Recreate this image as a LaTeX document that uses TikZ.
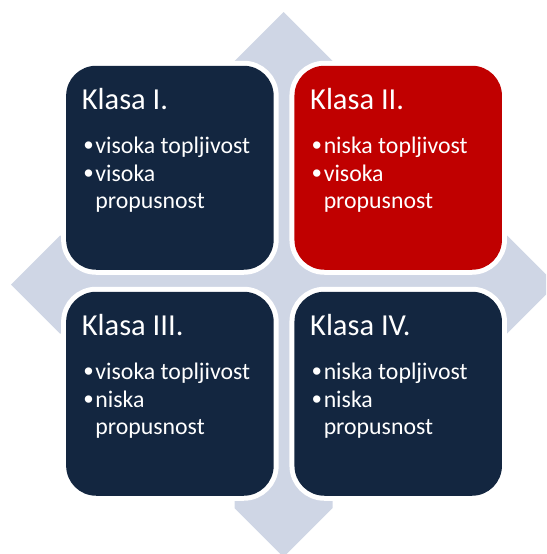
\documentclass[tikz,border=0pt]{standalone}
\usepackage{fontspec}
\setmainfont{Carlito}
\newfontfamily\bulletfont{Liberation Sans}
\usetikzlibrary{calc}
\definecolor{navy}{RGB}{19,38,64}
\definecolor{klred}{RGB}{192,0,0}
\definecolor{crossblue}{RGB}{207,214,229}
\tikzset{
  qbox/.style={rectangle, rounded corners=30pt, minimum width=207.5pt, minimum height=204pt,
    inner sep=0pt, preaction={draw=white, line width=10pt}},
  ttl/.style={anchor=base west, inner sep=0pt, text=white, font=\fontsize{30.5}{36}\selectfont},
  bul/.style={anchor=base west, inner sep=0pt, text=white, font=\bulletfont\fontsize{27}{30}\selectfont},
  txt/.style={anchor=base west, inner sep=0pt, text=white, font=\fontsize{23.8}{28}\selectfont},
}
\newcommand{\quadbox}[7]{%
  \node[qbox, fill=#3] (#1) at (#2) {};
  \node[ttl] (#1-t) at ($(#1.north west)+(15.7,43.5)$) {#4};
  \node[bul] (#1-b1) at ($(#1.north west)+(17.6,88.8)$) {•};
  \node[txt] (#1-l1) at ($(#1.north west)+(29.3,87.8)$) {#5};
  \node[bul] (#1-b2) at ($(#1.north west)+(17.6,117.2)$) {•};
  \node[txt] (#1-l2) at ($(#1.north west)+(29.3,116.2)$) {#6};
  \node[txt] (#1-l3) at ($(#1.north west)+(29.3,142.8)$) {#7};
}
\begin{document}
\begin{tikzpicture}[x=1pt,y=-1pt]
\useasboundingbox (0,0) rectangle (546,554);
\clip (0,0) rectangle (546,554);
% four-way arrow
\fill[crossblue] (283.5,12) -- (332.5,61) -- (332.5,235.5) -- (507,235.5)
  -- (556,284.5) -- (507,333.5) -- (332.5,333.5)
  -- (332.5,508) -- (283.5,557) -- (234.5,508)
  -- (234.5,333.5) -- (60,333.5) -- (11,284.5) -- (60,235.5)
  -- (234.5,235.5) -- (234.5,61) -- cycle;
\quadbox{k1}{169.9,167.75}{navy}{Klasa I.}{visoka topljivost}{visoka}{propusnost}
\quadbox{k2}{398.2,167.75}{klred}{Klasa II.}{niska topljivost}{visoka}{propusnost}
\quadbox{k3}{169.9,393.75}{navy}{Klasa III.}{visoka topljivost}{niska}{propusnost}
\quadbox{k4}{398.2,393.75}{navy}{Klasa IV.}{niska topljivost}{niska}{propusnost}
\end{tikzpicture}
\end{document}
